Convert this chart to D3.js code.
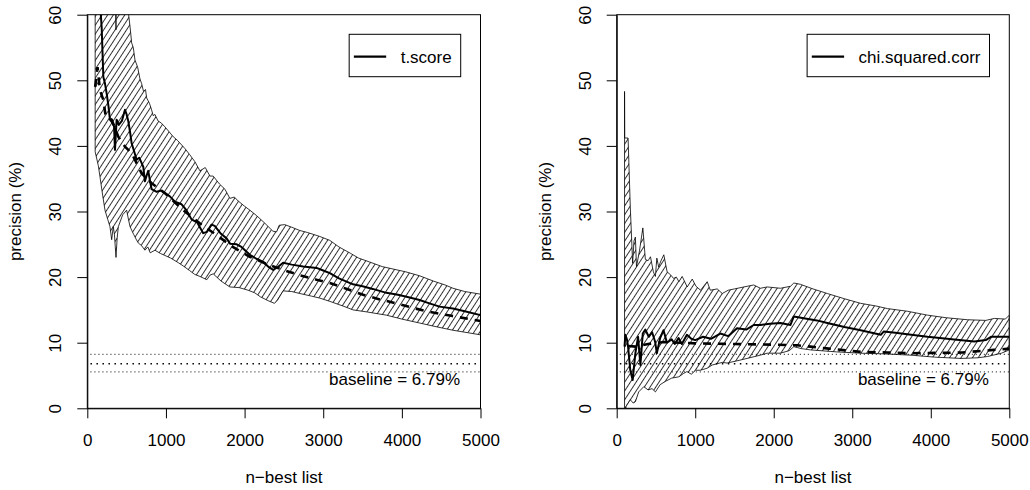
<!DOCTYPE html>
<html>
<head>
<meta charset="utf-8">
<style>
    body { margin: 0; padding: 0; overflow: hidden; background-color: #fff; }
    text { font-family: "Liberation Sans", Arial, sans-serif; font-size: 17px; fill: #000; }
</style>
</head>
<body>
<div id="chart"></div>
<script src="https://cdn.jsdelivr.net/npm/d3@7"></script>
<script>
var xTicks = [0, 1000, 2000, 3000, 4000, 5000];
var yTicks = [0, 10, 20, 30, 40, 50, 60];
var baseline = 6.79;
var baselineLow = 5.55;
var baselineHigh = 8.23;

// t.score panel: [n-best, precision %]
var tScoreUpper = [[100, 85], [200, 75], [300, 68], [355, 62], [365, 57.7], [375, 66], [450, 63], [521, 60.5], [545, 58], [564, 55.7], [585, 55.0], [606, 53.1], [640, 52.0], [670, 50.2], [691, 49.5], [715, 48.3], [740, 48.6], [755, 47.3], [790, 46.5], [815, 45.6], [838, 44.6], [860, 44.8], [900, 43.8], [940, 43.5], [987, 42.9], [1030, 42.3], [1093, 41.4], [1150, 40.8], [1241, 39.6], [1300, 38.7], [1368, 37.6], [1432, 36.2], [1500, 36.7], [1560, 35.4], [1601, 35.4], [1680, 34.2], [1750, 33.4], [1813, 32.0], [1870, 32.2], [1919, 31.6], [2000, 30.8], [2067, 30.2], [2150, 29.4], [2250, 28.3], [2360, 27.0], [2407, 26.9], [2440, 27.9], [2510, 28.0], [2600, 27.6], [2703, 27.1], [2800, 26.8], [2955, 26.2], [3084, 25.6], [3200, 24.6], [3350, 23.6], [3450, 22.9], [3590, 22.3], [3750, 21.6], [3900, 21.2], [4050, 20.8], [4226, 20.2], [4400, 19.4], [4550, 18.8], [4650, 18.3], [4800, 17.8], [5000, 17.4]];
var tScoreLower = [[100, 39.1], [140, 37.0], [161, 35.3], [195, 32.5], [225, 30.2], [260, 28.8], [288, 27.7], [310, 25.7], [330, 27.7], [345, 26.5], [365, 23.0], [380, 26.0], [395, 27.7], [450, 29.5], [500, 30.2], [520, 29.0], [543, 27.7], [590, 26.5], [620, 25.8], [648, 25.2], [690, 24.8], [733, 24.1], [770, 24.6], [800, 23.7], [860, 24.1], [930, 23.6], [987, 23.3], [1060, 22.9], [1157, 22.2], [1220, 21.7], [1300, 21.0], [1368, 20.4], [1432, 20.1], [1520, 19.6], [1560, 20.3], [1601, 20.5], [1700, 19.4], [1813, 18.5], [1930, 18.4], [2045, 18.0], [2130, 17.6], [2200, 17.0], [2300, 16.4], [2380, 16.0], [2420, 16.5], [2490, 17.9], [2600, 17.8], [2703, 17.5], [2850, 17.1], [2955, 16.8], [3084, 16.3], [3250, 15.6], [3379, 15.0], [3550, 14.7], [3803, 14.2], [4000, 13.6], [4226, 13.0], [4450, 12.4], [4650, 11.9], [4850, 11.5], [5000, 11.2]];
var tScoreObserved = [[100, 65], [150, 64], [183, 58], [204, 50.5], [225, 49.5], [246, 48.0], [270, 46.0], [288, 44.0], [320, 43.5], [340, 43.0], [352, 39.4], [373, 44.0], [400, 43.2], [440, 43.8], [479, 45.5], [500, 44.8], [521, 43.8], [545, 42.0], [564, 40.4], [600, 39.0], [627, 37.9], [660, 38.2], [690, 37.4], [712, 36.8], [733, 34.6], [755, 35.5], [775, 36.2], [800, 34.5], [818, 33.4], [882, 33.0], [940, 33.2], [987, 32.8], [1050, 32.3], [1114, 31.5], [1199, 31.1], [1260, 30.2], [1326, 28.8], [1400, 28.3], [1474, 26.7], [1520, 26.9], [1580, 28.0], [1620, 27.8], [1700, 26.6], [1771, 25.9], [1815, 25.1], [1900, 25.0], [1960, 24.6], [2067, 23.4], [2150, 22.8], [2236, 22.3], [2300, 21.6], [2364, 21.1], [2420, 21.5], [2490, 22.2], [2600, 21.9], [2745, 21.6], [2915, 21.4], [3000, 21.0], [3084, 20.6], [3200, 19.8], [3379, 18.9], [3500, 18.6], [3630, 18.2], [3803, 17.6], [3950, 17.3], [4060, 17.0], [4226, 16.5], [4350, 16.0], [4480, 15.5], [4650, 15.2], [4800, 14.8], [5000, 14.2]];
var tScoreExpected = [[100, 49.0], [130, 52.0], [161, 48.5], [204, 47.0], [234, 44.5], [310, 44.0], [394, 41.4], [479, 39.9], [564, 38.9], [691, 35.8], [818, 34.3], [987, 32.8], [1220, 30.2], [1430, 28.2], [1644, 26.4], [1850, 24.6], [2067, 23.1], [2280, 22.0], [2490, 21.1], [2700, 20.3], [2915, 19.6], [3084, 19.1], [3300, 18.2], [3507, 17.3], [3720, 16.6], [3930, 16.0], [4140, 15.3], [4354, 14.7], [4630, 14.1], [4904, 13.5], [5000, 13.3]];

// chi.squared.corr panel
var chiUpper = [[100, 48.3], [102, 41.2], [145, 41.2], [173, 30.7], [203, 22.1], [220, 25.5], [238, 26.1], [252, 21.6], [290, 24.0], [333, 27.5], [365, 22.7], [400, 22.5], [430, 23.1], [467, 20.8], [493, 20.1], [511, 22.9], [535, 21.5], [557, 22.3], [600, 23.4], [642, 20.8], [690, 20.3], [723, 19.8], [760, 20.0], [792, 19.3], [834, 20.1], [898, 18.5], [962, 19.7], [1010, 18.6], [1068, 18.0], [1153, 19.3], [1192, 18.0], [1280, 18.2], [1345, 17.5], [1420, 18.0], [1500, 18.2], [1620, 18.5], [1745, 18.8], [1830, 18.3], [1916, 18.5], [2086, 18.3], [2213, 18.6], [2256, 19.1], [2340, 18.9], [2500, 18.2], [2682, 17.5], [2900, 16.7], [3107, 16.0], [3300, 15.6], [3448, 15.2], [3700, 14.8], [3959, 14.2], [4200, 13.8], [4470, 13.5], [4700, 13.4], [4810, 13.7], [4950, 13.6], [5000, 14.2]];
var chiLower = [[100, -2], [120, 0.3], [173, 1.3], [210, 0.8], [238, 1.0], [280, 2.5], [345, 3.3], [400, 2.8], [450, 3.0], [493, 2.5], [553, 3.6], [620, 4.1], [700, 4.6], [792, 4.8], [850, 5.3], [894, 5.6], [950, 5.2], [1004, 5.8], [1064, 5.8], [1150, 6.1], [1217, 6.6], [1345, 7.0], [1405, 6.9], [1520, 7.2], [1660, 7.6], [1760, 7.9], [1830, 8.1], [1916, 8.4], [2086, 8.4], [2200, 8.8], [2256, 9.4], [2350, 9.1], [2470, 8.9], [2800, 8.6], [3107, 8.4], [3400, 8.3], [3746, 8.1], [4050, 7.8], [4384, 7.6], [4600, 7.7], [4725, 7.9], [4900, 8.4], [5000, 8.9]];
var chiObserved = [[100, 9.4], [110, 11.2], [130, 10.5], [145, 9.4], [173, 5.8], [203, 4.3], [238, 8.4], [272, 10.9], [302, 6.6], [332, 11.4], [365, 12.0], [408, 10.9], [451, 11.6], [490, 10.1], [511, 8.4], [553, 10.7], [596, 11.9], [640, 10.0], [700, 10.5], [740, 9.8], [788, 10.7], [830, 9.8], [894, 11.2], [950, 10.6], [1000, 10.4], [1100, 10.9], [1200, 10.6], [1320, 11.4], [1420, 11.0], [1532, 12.2], [1650, 12.0], [1745, 12.7], [1830, 12.7], [1950, 12.9], [2086, 13.0], [2213, 12.7], [2256, 14.0], [2400, 13.7], [2550, 13.4], [2682, 13.0], [2900, 12.4], [3107, 11.9], [3363, 11.2], [3400, 11.7], [3550, 11.5], [3700, 11.3], [3959, 10.9], [4300, 10.5], [4555, 10.2], [4700, 10.4], [4767, 10.9], [5000, 10.9]];
var chiExpected = [[150, 9.5], [240, 9.4], [400, 9.8], [600, 10.1], [1000, 9.9], [1500, 9.8], [2000, 9.7], [2300, 9.6], [2470, 9.4], [2700, 9.1], [3107, 8.6], [3450, 8.5], [3750, 8.4], [4400, 8.5], [4800, 8.9], [5000, 9.1]];

var plotTop = 14.7, plotBottom = 408.3;

var panels = [
    { id: "l", left: 87.3, right: 480.5, label: "t.score", upper: tScoreUpper, lower: tScoreLower, observed: tScoreObserved, expected: tScoreExpected },
    { id: "r", left: 616.7, right: 1009.3, label: "chi.squared.corr", upper: chiUpper, lower: chiLower, observed: chiObserved, expected: chiExpected }
];

var svg = d3.select("#chart").append("svg")
    .attr("width", 1030)
    .attr("height", 490);

var defs = svg.append("defs");
var hatch = defs.append("pattern")
    .attr("id", "hatch")
    .attr("patternUnits", "userSpaceOnUse")
    .attr("width", 4.8)
    .attr("height", 10)
    .attr("patternTransform", "rotate(33)");
hatch.append("line")
    .attr("x1", 2.4).attr("x2", 2.4)
    .attr("y1", -1).attr("y2", 11)
    .attr("stroke", "#000")
    .attr("stroke-width", 0.8);

panels.forEach(function(p) {
    var x = d3.scaleLinear().domain([0, 5000]).range([p.left, p.right]);
    var y = d3.scaleLinear().domain([0, 60]).range([plotBottom, plotTop]);
    var g = svg.append("g");

    defs.append("clipPath").attr("id", "clip-" + p.id)
        .append("rect")
        .attr("x", p.left).attr("y", plotTop)
        .attr("width", p.right - p.left).attr("height", plotBottom - plotTop);

    var plot = g.append("g").attr("clip-path", "url(#clip-" + p.id + ")");
    var line = d3.line().x(d => x(d[0])).y(d => y(d[1]));

    // confidence band
    var band = p.upper.concat(p.lower.slice().reverse());
    plot.append("path")
        .attr("d", line(band) + "Z")
        .attr("fill", "url(#hatch)")
        .attr("stroke", "#000")
        .attr("stroke-width", 0.8);

    // baseline and its interval
    [[baselineHigh, 1, "1,3"], [baseline, 1.5, "1.5,4.5"], [baselineLow, 1, "1,3"]].forEach(function(b) {
        plot.append("line")
            .attr("x1", x(40)).attr("x2", x(5000))
            .attr("y1", y(b[0])).attr("y2", y(b[0]))
            .attr("stroke", "#000")
            .attr("stroke-width", b[1])
            .attr("stroke-dasharray", b[2]);
    });

    plot.append("path")
        .attr("d", line(p.expected))
        .attr("fill", "none")
        .attr("stroke", "#000")
        .attr("stroke-width", 2.6)
        .attr("stroke-dasharray", "8,7");

    plot.append("path")
        .attr("d", line(p.observed))
        .attr("fill", "none")
        .attr("stroke", "#000")
        .attr("stroke-width", 2)
        .attr("stroke-linejoin", "round");

    // box
    g.append("rect")
        .attr("x", p.left).attr("y", plotTop)
        .attr("width", p.right - p.left).attr("height", plotBottom - plotTop)
        .attr("fill", "none").attr("stroke", "#000").attr("stroke-width", 1);

    // axes
    var xa = g.append("g")
        .attr("transform", "translate(0," + plotBottom + ")")
        .call(d3.axisBottom(x).tickValues(xTicks).tickSize(10).tickSizeOuter(0).tickFormat(d3.format("d")));
    xa.selectAll("text").attr("y", 37.7).attr("dy", null);

    var ya = g.append("g")
        .attr("transform", "translate(" + p.left + ",0)")
        .call(d3.axisLeft(y).tickValues(yTicks).tickSize(10).tickSizeOuter(0).tickFormat(d3.format("d")));
    ya.selectAll("text")
        .attr("x", null).attr("dy", null)
        .attr("text-anchor", "middle")
        .attr("transform", "translate(-26,0) rotate(-90)");

    // titles
    g.append("text")
        .attr("x", (p.left + p.right) / 2).attr("y", 483)
        .attr("text-anchor", "middle")
        .text("n\u2212best list");
    g.append("text")
        .attr("text-anchor", "middle")
        .attr("transform", "translate(" + (p.left - 66) + "," + (plotTop + plotBottom) / 2 + ") rotate(-90)")
        .text("precision (%)");

    // baseline label
    g.append("text")
        .attr("x", p.right - 20.5).attr("y", 384.5)
        .attr("text-anchor", "end")
        .text("baseline = " + baseline + "%");

    // legend
    var lg = g.append("g");
    var lt = lg.append("text")
        .attr("y", 63)
        .text(p.label);
    var w = lt.node().getComputedTextLength();
    var lx = p.right - 19.8 - (51.5 + w + 9);
    lt.attr("x", lx + 51.5);
    lg.insert("rect", "text")
        .attr("x", lx).attr("y", 34.3)
        .attr("width", 51.5 + w + 9).attr("height", 42.4)
        .attr("fill", "#fff").attr("stroke", "#000").attr("stroke-width", 1);
    lg.append("line")
        .attr("x1", lx + 4.7).attr("x2", lx + 37)
        .attr("y1", 56.7).attr("y2", 56.7)
        .attr("stroke", "#000").attr("stroke-width", 2.2);
});
</script>
</body>
</html>
